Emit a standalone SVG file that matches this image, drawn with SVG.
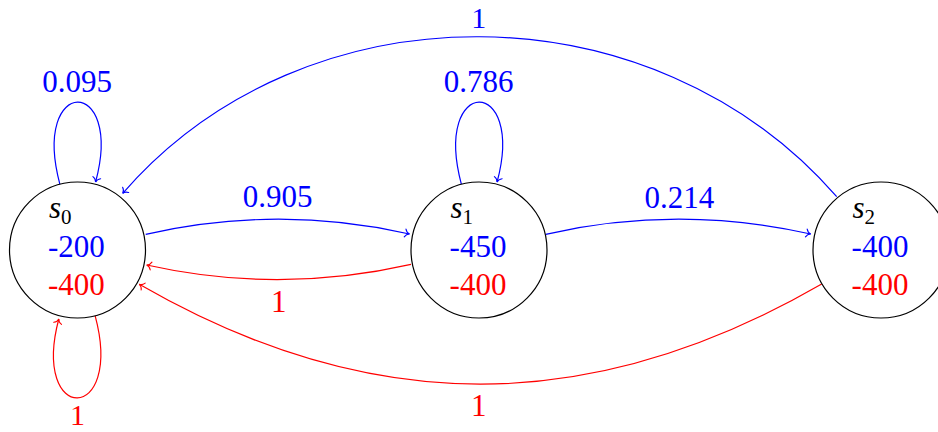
<svg xmlns="http://www.w3.org/2000/svg" width="938" height="432" viewBox="0 0 938 432">
  <style>
    text { font-family: "Liberation Serif", "Times New Roman", "DejaVu Serif", serif; font-size: 31px; }
    .blue { fill: #0000ff; }
    .red { fill: #ff0000; }
    .edge30 { font-size: 30px; }
    .name { fill: #000000; font-style: italic; }
    .sub { font-size: 21px; font-style: normal; }
    .node { fill: #ffffff; stroke: #000000; stroke-width: 1.2; }
    .eb { fill: none; stroke: #0000ff; stroke-width: 1.2; }
    .er { fill: none; stroke: #ff0000; stroke-width: 1.2; }
  </style>
  <defs>
    <marker id="ab" markerUnits="userSpaceOnUse" markerWidth="12" markerHeight="12" refX="0" refY="0" orient="auto" overflow="visible">
      <path d="M-4.5,-4 C-3.5,-1.6 -1.6,-0.3 0,0 C-1.6,0.3 -3.5,1.6 -4.5,4" fill="none" stroke="#0000ff" stroke-width="1.1" stroke-linecap="round"/>
    </marker>
    <marker id="ar" markerUnits="userSpaceOnUse" markerWidth="12" markerHeight="12" refX="0" refY="0" orient="auto" overflow="visible">
      <path d="M-4.5,-4 C-3.5,-1.6 -1.6,-0.3 0,0 C-1.6,0.3 -3.5,1.6 -4.5,4" fill="none" stroke="#ff0000" stroke-width="1.1" stroke-linecap="round"/>
    </marker>
  </defs>

  <g id="connectors">
    <path class="eb" d="M59.9,184.3 C30.7,75.2 124.3,75.2 95.6,182" marker-end="url(#ab)"/>
    <path class="eb" d="M461.4,184.3 C432.2,75.2 525.8,75.2 497.1,182" marker-end="url(#ab)"/>
    <path class="er" d="M95.1,315.7 C124.3,424.8 30.7,424.8 58.8,319" marker-end="url(#ar)"/>
    <path class="eb" d="M145.7,234.3 Q278,204.3 409.5,234" marker-end="url(#ab)"/>
    <path class="er" d="M411,264.3 Q278.5,294.5 146.7,265" marker-end="url(#ar)"/>
    <path class="eb" d="M545.7,234.3 Q678,204.3 810.7,234" marker-end="url(#ab)"/>
    <path class="er" d="M821.7,284 C590.7,417.5 370.3,417.5 139.3,284.3" marker-end="url(#ar)"/>
    <path class="eb" d="M836.7,196.7 C653.3,-14.3 306.1,-17.7 122.7,193.3" marker-end="url(#ab)"/>
    <text class="blue" x="77" y="92.3" text-anchor="middle">0.095</text>
    <text class="blue" x="478.5" y="92.3" text-anchor="middle">0.786</text>
    <text class="red edge30" x="77.5" y="425" text-anchor="middle">1</text>
    <text class="blue" x="277.7" y="207.3" text-anchor="middle">0.905</text>
    <text class="red" x="278.7" y="311.7" text-anchor="middle">1</text>
    <text class="blue" x="679.3" y="207.7" text-anchor="middle">0.214</text>
    <text class="blue edge30" x="478.8" y="27.5" text-anchor="middle">1</text>
    <text class="red" x="478.8" y="415.7" text-anchor="middle">1</text>
  </g>

  <g id="s0">
    <circle class="node" cx="77.5" cy="250" r="68"/>
    <text class="name" x="49" y="218.3">s<tspan class="sub" dy="5.7">0</tspan></text>
    <text class="blue" x="76.3" y="257.3" text-anchor="middle">-200</text>
    <text class="red" x="76.3" y="295" text-anchor="middle">-400</text>
  </g>
  <g id="s1">
    <circle class="node" cx="479" cy="250" r="68"/>
    <text class="name" x="450.5" y="218.3">s<tspan class="sub" dy="5.7">1</tspan></text>
    <text class="blue" x="478" y="257.3" text-anchor="middle">-450</text>
    <text class="red" x="478" y="295" text-anchor="middle">-400</text>
  </g>
  <g id="s2">
    <circle class="node" cx="881" cy="250" r="68"/>
    <text class="name" x="852.5" y="218.3">s<tspan class="sub" dy="5.7">2</tspan></text>
    <text class="blue" x="880" y="257.3" text-anchor="middle">-400</text>
    <text class="red" x="880" y="295" text-anchor="middle">-400</text>
  </g>
</svg>
